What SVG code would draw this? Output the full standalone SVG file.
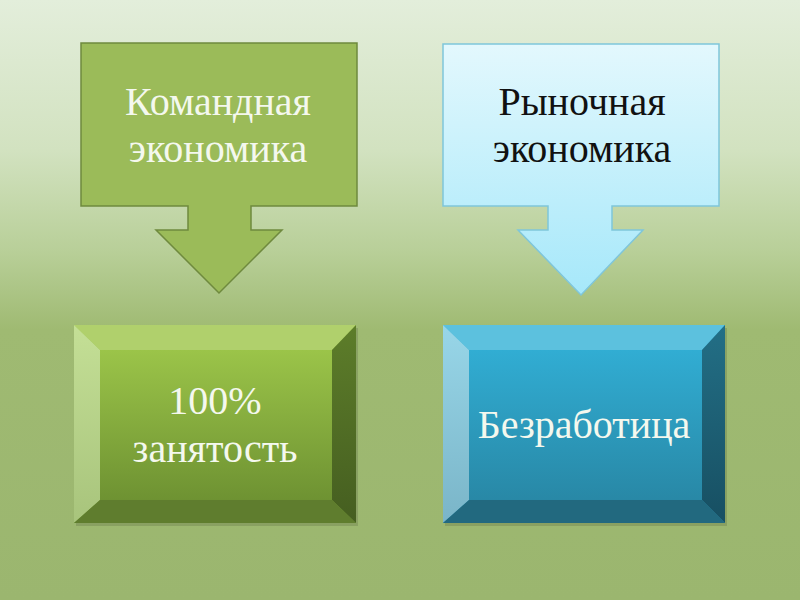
<svg xmlns="http://www.w3.org/2000/svg" width="800" height="600" viewBox="0 0 800 600">
  <defs>
    <linearGradient id="bg" x1="0" y1="0" x2="0" y2="1">
      <stop offset="0" stop-color="#e3eedb"/>
      <stop offset="0.25" stop-color="#d2e2c0"/>
      <stop offset="0.42" stop-color="#b8cf98"/>
      <stop offset="0.55" stop-color="#9fba72"/>
      <stop offset="1" stop-color="#9bb66f"/>
    </linearGradient>
    <linearGradient id="cyan" x1="0" y1="0" x2="0" y2="1">
      <stop offset="0" stop-color="#e3f8fd"/>
      <stop offset="1" stop-color="#a6e8fa"/>
    </linearGradient>
    <linearGradient id="gface" x1="0" y1="0" x2="0" y2="1">
      <stop offset="0" stop-color="#9bc449"/>
      <stop offset="1" stop-color="#6e9232"/>
    </linearGradient>
    <linearGradient id="bface" x1="0" y1="0" x2="0" y2="1">
      <stop offset="0" stop-color="#31add3"/>
      <stop offset="1" stop-color="#2888a6"/>
    </linearGradient>
    <linearGradient id="gleft" x1="0" y1="0" x2="0" y2="1">
      <stop offset="0" stop-color="#c4df96"/>
      <stop offset="1" stop-color="#a8c47c"/>
    </linearGradient>
    <linearGradient id="gright" x1="0" y1="0" x2="0" y2="1">
      <stop offset="0" stop-color="#5d7d2a"/>
      <stop offset="1" stop-color="#455e20"/>
    </linearGradient>
    <linearGradient id="bleft" x1="0" y1="0" x2="0" y2="1">
      <stop offset="0" stop-color="#98d6e8"/>
      <stop offset="1" stop-color="#7ab5c8"/>
    </linearGradient>
    <linearGradient id="bright" x1="0" y1="0" x2="0" y2="1">
      <stop offset="0" stop-color="#236f86"/>
      <stop offset="1" stop-color="#174f62"/>
    </linearGradient>
  </defs>
  <style>
    .lbl { font-family: "Liberation Serif", "Times New Roman", serif; font-size: 40px; text-anchor: middle; }
    .w { fill: #f4f8ee; }
    .k { fill: #111111; }
    .shadow { fill: #000000; opacity: 0.12; }
  </style>
  <rect x="0" y="0" width="800" height="600" fill="url(#bg)"/>

  <g id="node-command">
    <path d="M81,43 H357 V206 H251 V230 H282 L219,293 L156,230 H188 V206 H81 Z" fill="#9bbb59" stroke="#6f8a3e" stroke-width="1.5"/>
    <text class="lbl w" x="218" y="115">Командная</text>
    <text class="lbl w" x="218" y="162">экономика</text>
  </g>

  <g id="node-market">
    <path d="M443,44 H719 V206 H612 V230 H643 L581,295 L518,230 H548 V206 H443 Z" fill="url(#cyan)" stroke="#7fc6da" stroke-width="1.5"/>
    <text class="lbl k" x="582" y="115">Рыночная</text>
    <text class="lbl k" x="582" y="162">экономика</text>
  </g>

  <g id="node-employment">
    <rect class="shadow" x="76" y="328" width="282" height="198"/>
    <rect x="74" y="325" width="282" height="198" fill="url(#gface)"/>
    <polygon points="74,325 356,325 332,350 100,350" fill="#b0d06c"/>
    <polygon points="74,325 100,350 100,500 74,523" fill="url(#gleft)"/>
    <polygon points="356,325 356,523 332,500 332,350" fill="url(#gright)"/>
    <polygon points="74,523 100,500 332,500 356,523" fill="#5f7d2e"/>
    <rect x="100" y="350" width="232" height="150" fill="url(#gface)"/>
    <text class="lbl w" x="215" y="414">100%</text>
    <text class="lbl w" x="215" y="462">занятость</text>
  </g>

  <g id="node-unemployment">
    <rect class="shadow" x="445" y="328" width="282" height="198"/>
    <rect x="443" y="325" width="282" height="198" fill="url(#bface)"/>
    <polygon points="443,325 725,325 702,350 469,350" fill="#5cc1de"/>
    <polygon points="443,325 469,350 469,500 443,523" fill="url(#bleft)"/>
    <polygon points="725,325 725,523 702,500 702,350" fill="url(#bright)"/>
    <polygon points="443,523 469,500 702,500 725,523" fill="#22697f"/>
    <rect x="469" y="350" width="233" height="150" fill="url(#bface)"/>
    <text class="lbl w" x="584" y="438">Безработица</text>
  </g>

  <g id="connectors"></g>
</svg>
